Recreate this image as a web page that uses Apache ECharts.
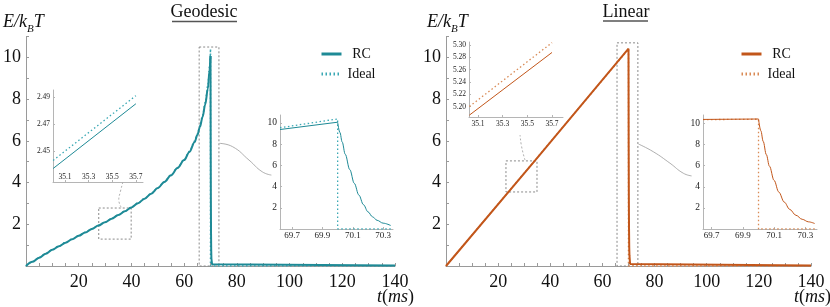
<!DOCTYPE html>
<html>
<head>
<meta charset="utf-8">
<script src="https://cdn.jsdelivr.net/npm/echarts@6.0.0/dist/echarts.min.js"></script>
<style>
html,body{margin:0;padding:0;background:#fff;}
#chart{width:830px;height:307px;}
</style>
</head>
<body>
<div id="chart"></div>
<script>
// ---------- data ----------
const panelTitles = ['Geodesic', 'Linear'];
const mainXTicks = [20, 40, 60, 80, 100, 120, 140];
const mainYTicks = [2, 4, 6, 8, 10];
const zoomAXTicks = [35.1, 35.3, 35.5, 35.7];
const geoZoomAYTicks = [2.45, 2.47, 2.49];
const linZoomAYTicks = [5.20, 5.22, 5.24, 5.26, 5.28, 5.30];
const zoomBXTicks = [69.7, 69.9, 70.1, 70.3];
const zoomBYTicks = [2, 4, 6, 8, 10];
const protocolEnd = 70;   // ms, end of the driving protocol

// Geodesic protocol
const geoRCMain = [[0,0],[2.5,0.2],[5,0.4],[7.5,0.59],[10,0.78],[12.5,0.95],[15,1.12],[17.5,1.28],[20,1.45],[22.5,1.61],[25,1.78],[27.5,1.94],[30,2.1],[32.5,2.27],[35,2.44],[37.5,2.62],[40,2.81],[42.5,3.01],[45,3.23],[47.5,3.47],[50,3.74],[52.5,4.03],[55,4.35],[57.5,4.7],[60,5.08],[62,5.47],[64,5.95],[65,6.28],[66,6.67],[67,7.15],[68,7.75],[69,8.5],[69.62,9.38],[70,10.07],[70.03,8.2],[70.08,5.6],[70.14,3.2],[70.2,1.62],[70.26,0.82],[70.34,0.36],[70.6,0.08],[71,0.02],[140,0.02]];
const geoIdealMain = [[0,0],[2.5,0.21],[5,0.41],[7.5,0.6],[10,0.79],[12.5,0.96],[15,1.13],[17.5,1.29],[20,1.46],[22.5,1.62],[25,1.79],[27.5,1.95],[30,2.11],[32.5,2.28],[35,2.447],[37.5,2.63],[40,2.82],[42.5,3.02],[45,3.24],[47.5,3.48],[50,3.75],[52.5,4.04],[55,4.36],[57.5,4.72],[60,5.1],[62,5.5],[64,5.99],[65,6.33],[66,6.73],[67,7.23],[68,7.85],[69,8.65],[69.62,9.55],[70,10.38],[70,0],[140,0]];
const geoRCZoomA = [[35.0,2.437],[35.7,2.485]];
const geoIdealZoomA = [[35.0,2.443],[35.7,2.491]];
const geoRCZoomB = [[69.62,9.38],[70.0,10.07],[70.015,9.1],[70.03,8.2],[70.05,7.05],[70.08,5.6],[70.11,4.3],[70.14,3.2],[70.17,2.3],[70.2,1.62],[70.23,1.15],[70.26,0.82],[70.3,0.55],[70.35,0.33]];
const geoIdealZoomB = [[69.62,9.55],[70.0,10.38],[70.0,0],[70.365,0]];

// Linear protocol
const linRCMain = [[0,0],[35,5.185],[70,10.42],[70.03,8.28],[70.07,5.77],[70.13,3.42],[70.2,1.84],[70.28,0.9],[70.36,0.52],[70.6,0.1],[71,0.02],[140,0.02]];
const linIdealMain = [[0,0],[35,5.2],[70,10.4],[70,0],[140,0]];
const linRCZoomA = [[35.03,5.186],[35.7,5.288]];
const linIdealZoomA = [[35.03,5.20],[35.7,5.304]];
const linRCZoomB = [[69.644,10.38],[70.0,10.42],[70.015,9.3],[70.03,8.3],[70.05,7.05],[70.07,5.95],[70.1,4.6],[70.13,3.5],[70.165,2.55],[70.2,1.86],[70.24,1.3],[70.28,0.92],[70.32,0.68],[70.36,0.52]];
const linIdealZoomB = [[69.644,10.36],[70.0,10.40],[70.0,0],[70.375,0]];

// zoom-window boxes and callout connectors (data space of main panels)
const geoZoomBoxes = [[[65.7,10.5],[73.2,-0.34]], [[27.6,2.78],[39.9,1.29]]];
const linZoomBoxes = [[[65.6,10.7],[73.6,-0.14]], [[23.0,5.04],[34.9,3.55]]];
const geoCalloutB = [[73.4,5.88],[78.4,5.72],[84.6,5.08],[89.6,4.52],[93.1,4.36]];
const geoCalloutA = [[36.1,2.82],[35.2,3.17],[35.8,3.56],[36.7,4.0]];
const linCalloutB = [[73.8,5.85],[79.5,5.48],[85.9,4.93],[91.0,4.45],[94.2,4.32]];
const linCalloutA = [[30.3,5.08],[29.0,5.72],[28.4,6.28]];

// ---------- styling ----------
const SERIF = 'Liberation Serif';
const TEAL = '#1e8a96', TEAL_L = '#3aa8b4';
const ORANGE = '#c2561a', ORANGE_L = '#d98a55';
const AXIS = '#9a9a9a';

const chart = echarts.init(document.getElementById('chart'), null, {renderer: 'canvas'});

function mainX(gi) {
  return {type:'value', gridIndex:gi, min:0, max:140, interval:5,
    axisLine:{show:true, onZero:false, lineStyle:{color:AXIS}},
    axisTick:{show:true, inside:true, length:3, lineStyle:{color:AXIS}},
    axisLabel:{interval:0, margin:7, color:'#111', fontFamily:SERIF, fontSize:18,
      formatter: v => mainXTicks.includes(v) ? String(v) : ''},
    splitLine:{show:false}};
}
function mainY(gi) {
  return {type:'value', gridIndex:gi, min:0, max:11, interval:1,
    axisLine:{show:true, onZero:false, lineStyle:{color:AXIS}},
    axisTick:{show:true, inside:true, length:3, lineStyle:{color:AXIS}},
    axisLabel:{interval:0, margin:5, color:'#111', fontFamily:SERIF, fontSize:18,
      formatter: v => mainYTicks.includes(v) ? String(v) : ''},
    splitLine:{show:false}};
}
function insetAxis(gi, min, max, ticks, digits, fontSize, margin, inside) {
  return {type:'value', gridIndex:gi, min:min, max:max,
    axisLine:{show:true, onZero:false, lineStyle:{color:'#b5b5b5'}},
    axisTick:{show:true, inside:true, length:2, customValues:ticks, lineStyle:{color:'#b5b5b5'}},
    axisLabel:{customValues:ticks, margin:margin, inside:!!inside, color:'#222', fontFamily:SERIF, fontSize:fontSize,
      formatter: v => Number(v).toFixed(digits)},
    splitLine:{show:false}};
}

function line(name, xi, data, color, width, dotted, extra) {
  return Object.assign({type:'line', name:name, xAxisIndex:xi, yAxisIndex:xi, data:data,
    symbol:'none', showSymbol:false, silent:true, animation:false,
    lineStyle:{color:color, width:width, type: dotted ? [1.5, 2.5] : 'solid'},
    itemStyle:{color:color}}, extra || {});
}
function callout(xi, data, dotted) {
  return {type:'line', xAxisIndex:xi, yAxisIndex:xi, data:data, smooth:0.5, symbol:'none',
    silent:true, animation:false, clip:false,
    lineStyle:{color:'#9a9a9a', width:0.8, type: dotted ? [2,2] : 'solid'}};
}
function boxes(list) {
  return {silent:true, itemStyle:{color:'rgba(0,0,0,0)', borderColor:'#8a8a8a', borderWidth:1, borderType:[2,2]},
    data: list.map(b => [{coord:b[0]}, {coord:b[1]}])};
}
// split a trace into the rising part (up to the protocol end) and the rest
function rising(d) { const i = d.findIndex(p => p[0] >= protocolEnd); return d.slice(0, i + 1); }
function after(d) { const i = d.findIndex(p => p[0] >= protocolEnd); return d.slice(i); }

const grids = [
  {left:20, top:36.6, width:375, height:229.4},   // 0 geodesic main
  {left:53, top:90, width:90, height:92},         // 1 geodesic zoom A
  {left:280, top:115, width:113, height:114},     // 2 geodesic zoom B
  {left:446, top:36.6, width:365, height:229.4},  // 3 linear main
  {left:469, top:42, width:94, height:75},        // 4 linear zoom A
  {left:703, top:115, width:114, height:114}      // 5 linear zoom B
];

const xAxes = [
  mainX(0),
  insetAxis(1, 34.999, 35.76, zoomAXTicks, 1, 7.5, 1, true),
  insetAxis(2, 69.62, 70.365, zoomBXTicks, 1, 9, 2),
  mainX(3),
  insetAxis(4, 35.027, 35.789, zoomAXTicks, 1, 7.5, 3),
  insetAxis(5, 69.644, 70.375, zoomBXTicks, 1, 9, 2)
];
const yAxes = [
  mainY(0),
  insetAxis(1, 2.427, 2.4952, geoZoomAYTicks, 2, 7.5, 3),
  insetAxis(2, 0, 10.75, zoomBYTicks, 0, 9.5, 3),
  mainY(3),
  insetAxis(4, 5.183, 5.305, linZoomAYTicks, 2, 7.5, 3),
  insetAxis(5, 0, 10.8, zoomBYTicks, 0, 9.5, 3)
];

const smoothOpt = {smooth:0.35, smoothMonotone:'x'};
const series = [
  line('Ideal', 0, rising(geoIdealMain), TEAL_L, 1.5, true, Object.assign({clip:false, markArea: boxes(geoZoomBoxes)}, smoothOpt)),
  line('Ideal', 0, after(geoIdealMain), TEAL_L, 1.5, true),
  line('RC', 0, rising(geoRCMain), TEAL, 2, false, Object.assign({z:3}, smoothOpt)),
  line('RC', 0, after(geoRCMain), TEAL, 2, false, {z:3}),
  line('Ideal', 1, geoIdealZoomA, TEAL_L, 1.3, true),
  line('RC', 1, geoRCZoomA, TEAL, 1, false),
  line('Ideal', 2, geoIdealZoomB, TEAL_L, 1.3, true),
  line('RC', 2, rising(geoRCZoomB), TEAL, 1, false),
  line('RC', 2, after(geoRCZoomB), TEAL, 1, false, smoothOpt),
  line('Ideal_lin', 3, linIdealMain, ORANGE_L, 1.5, true, {clip:false, markArea: boxes(linZoomBoxes)}),
  line('RC_lin', 3, linRCMain, ORANGE, 2, false, {z:3}),
  line('Ideal_lin', 4, linIdealZoomA, ORANGE_L, 1.3, true),
  line('RC_lin', 4, linRCZoomA, ORANGE, 1, false),
  line('Ideal_lin', 5, linIdealZoomB, ORANGE_L, 1.3, true),
  line('RC_lin', 5, rising(linRCZoomB), ORANGE, 1, false),
  line('RC_lin', 5, after(linRCZoomB), ORANGE, 1, false, smoothOpt),
  callout(0, geoCalloutB, false),
  callout(0, geoCalloutA, true),
  callout(3, linCalloutB, false),
  callout(3, linCalloutA, true)
];

function legendAt(left, names) {
  return {orient:'vertical', left:left, top:42, itemWidth:20, itemHeight:14, itemGap:6,
    selectedMode:false, data:names, lineStyle:{width:3},
    itemStyle:{opacity:0, borderWidth:0},
    formatter: n => '{a|' + n.replace('_lin', '') + '}',
    textStyle:{fontFamily:SERIF, fontSize:14, color:'#111',
      rich:{a:{width:30, align:'center', fontFamily:SERIF, fontSize:14, color:'#111'}}}};
}

const richAxisName = {
  i:{fontFamily:SERIF, fontSize:18, fontStyle:'italic', lineHeight:26, verticalAlign:'middle', fill:'#111'},
  s:{fontFamily:SERIF, fontSize:11, fontStyle:'italic', lineHeight:26, verticalAlign:'bottom', fill:'#111'},
  n:{fontFamily:SERIF, fontSize:18, lineHeight:26, verticalAlign:'middle', fill:'#111'}
};
function txt(x, y, text, align) {
  return {type:'text', x:x, y:y, silent:true,
    style:{text:text, rich:richAxisName, align:align || 'left', verticalAlign:'middle'}};
}
function title(cx, y, text, x1, x2, uy) {
  return [
    {type:'text', x:cx, y:y, silent:true,
      style:{text:text, fontFamily:SERIF, fontSize:18, fill:'#111', align:'center', verticalAlign:'middle'}},
    {type:'line', silent:true, shape:{x1:x1, y1:uy, x2:x2, y2:uy}, style:{stroke:'#555', lineWidth:1.5}}
  ];
}

const graphic = [].concat(
  title(204, 12, panelTitles[0], 172, 237, 21.5),
  title(626, 12, panelTitles[1], 603, 648, 21),
  [
    txt(3, 22, '{i|E/k}{s|B}{i|T}'),
    txt(427, 22, '{i|E/k}{s|B}{i|T}'),
    txt(377, 297, '{i|t}{n|(}{i|ms}{n|)}'),
    txt(794, 297, '{i|t}{n|(}{i|ms}{n|)}')
  ]
);

chart.setOption({
  animation:false,
  backgroundColor:'#ffffff',
  grid: grids,
  xAxis: xAxes,
  yAxis: yAxes,
  legend: [legendAt(315, ['RC', 'Ideal']), legendAt(735, ['RC_lin', 'Ideal_lin'])],
  series: series,
  graphic: graphic
});
</script>
</body>
</html>
